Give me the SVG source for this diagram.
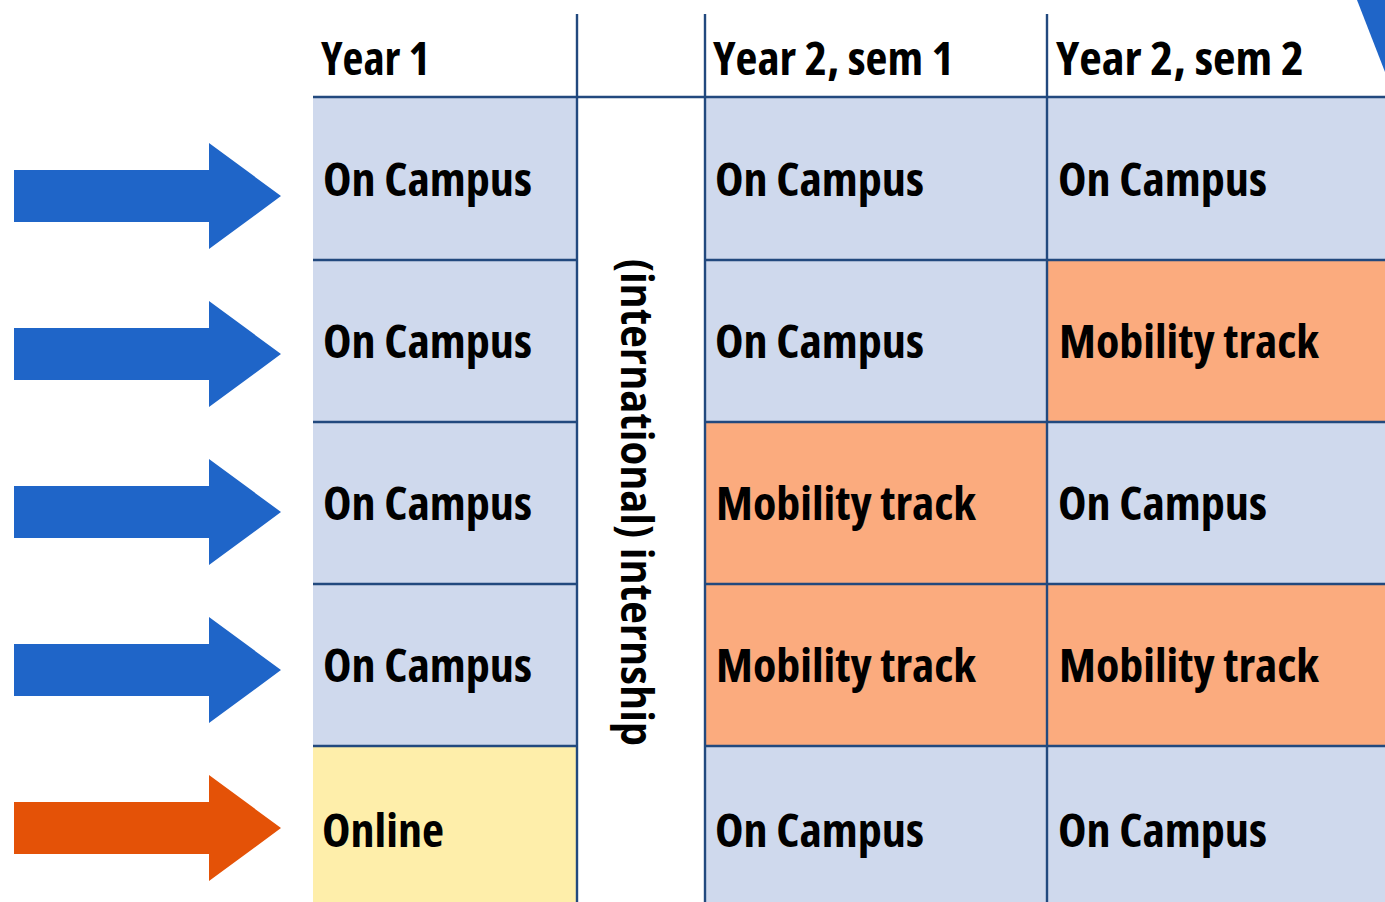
<svg xmlns="http://www.w3.org/2000/svg" width="1385" height="902" viewBox="0 0 1385 902">
<defs>
<style>
.t{font-family:"Open Sans","DejaVu Sans Condensed","Liberation Sans",sans-serif;font-weight:680;font-stretch:condensed;font-size:46px;fill:#000}
.v{font-family:"Open Sans","DejaVu Sans","Liberation Sans",sans-serif;font-weight:700;font-size:45px;fill:#000}
.blue{fill:#cfd9ed}
.peach{fill:#fbab7e}
.yel{fill:#feeeaa}
.arrB{fill:#1f65c8}
.arrO{fill:#e45207}
.ln{stroke:#22497e;stroke-width:2.4;fill:none}
</style>
<polygon id="arrow" points="14,-26 209,-26 209,-53 281,0 209,53 209,26 14,26"/>
</defs>
<rect x="0" y="0" width="1385" height="902" fill="#fff"/>
<polygon points="1357,0 1385,0 1385,72" fill="#1f65c8"/>

<g id="arrows">
<g id="arrow1"><use href="#arrow" class="arrB" transform="translate(0,196)"/></g>
<g id="arrow2"><use href="#arrow" class="arrB" transform="translate(0,354)"/></g>
<g id="arrow3"><use href="#arrow" class="arrB" transform="translate(0,512)"/></g>
<g id="arrow4"><use href="#arrow" class="arrB" transform="translate(0,670)"/></g>
<g id="arrow5"><use href="#arrow" class="arrO" transform="translate(0,828)"/></g>
</g>

<g id="headers">
<text class="t" x="321" y="75" textLength="109" lengthAdjust="spacingAndGlyphs">Year 1</text>
<text class="t" x="713" y="75" textLength="241" lengthAdjust="spacingAndGlyphs">Year 2, sem 1</text>
<text class="t" x="1056" y="75" textLength="248" lengthAdjust="spacingAndGlyphs">Year 2, sem 2</text>
</g>

<g id="c1r1"><rect class="blue" x="313" y="97" width="264" height="163"/><text class="t" x="323" y="196" textLength="209" lengthAdjust="spacingAndGlyphs">On Campus</text></g>
<g id="c1r2"><rect class="blue" x="313" y="260" width="264" height="162"/><text class="t" x="323" y="358" textLength="209" lengthAdjust="spacingAndGlyphs">On Campus</text></g>
<g id="c1r3"><rect class="blue" x="313" y="422" width="264" height="162"/><text class="t" x="323" y="520" textLength="209" lengthAdjust="spacingAndGlyphs">On Campus</text></g>
<g id="c1r4"><rect class="blue" x="313" y="584" width="264" height="162"/><text class="t" x="323" y="682" textLength="209" lengthAdjust="spacingAndGlyphs">On Campus</text></g>
<g id="c1r5"><rect class="yel" x="313" y="746" width="264" height="156"/><text class="t" x="322" y="847" textLength="122" lengthAdjust="spacingAndGlyphs">Online</text></g>

<g id="internship"><text class="v" transform="translate(621,259) rotate(90)" x="0" y="0" textLength="487" lengthAdjust="spacingAndGlyphs">(international) internship</text></g>

<g id="c3r1"><rect class="blue" x="705" y="97" width="342" height="163"/><text class="t" x="715" y="196" textLength="209" lengthAdjust="spacingAndGlyphs">On Campus</text></g>
<g id="c3r2"><rect class="blue" x="705" y="260" width="342" height="162"/><text class="t" x="715" y="358" textLength="209" lengthAdjust="spacingAndGlyphs">On Campus</text></g>
<g id="c3r3"><rect class="peach" x="705" y="422" width="342" height="162"/><text class="t" x="716" y="520" textLength="260" lengthAdjust="spacingAndGlyphs">Mobility track</text></g>
<g id="c3r4"><rect class="peach" x="705" y="584" width="342" height="162"/><text class="t" x="716" y="682" textLength="260" lengthAdjust="spacingAndGlyphs">Mobility track</text></g>
<g id="c3r5"><rect class="blue" x="705" y="746" width="342" height="156"/><text class="t" x="715" y="847" textLength="209" lengthAdjust="spacingAndGlyphs">On Campus</text></g>

<g id="c4r1"><rect class="blue" x="1047" y="97" width="338" height="163"/><text class="t" x="1058" y="196" textLength="209" lengthAdjust="spacingAndGlyphs">On Campus</text></g>
<g id="c4r2"><rect class="peach" x="1047" y="260" width="338" height="162"/><text class="t" x="1059" y="358" textLength="260" lengthAdjust="spacingAndGlyphs">Mobility track</text></g>
<g id="c4r3"><rect class="blue" x="1047" y="422" width="338" height="162"/><text class="t" x="1058" y="520" textLength="209" lengthAdjust="spacingAndGlyphs">On Campus</text></g>
<g id="c4r4"><rect class="peach" x="1047" y="584" width="338" height="162"/><text class="t" x="1059" y="682" textLength="260" lengthAdjust="spacingAndGlyphs">Mobility track</text></g>
<g id="c4r5"><rect class="blue" x="1047" y="746" width="338" height="156"/><text class="t" x="1058" y="847" textLength="209" lengthAdjust="spacingAndGlyphs">On Campus</text></g>

<g id="connectors">
<line class="ln" x1="313" y1="97" x2="1385" y2="97"/>
<line class="ln" x1="313" y1="260" x2="577" y2="260"/>
<line class="ln" x1="313" y1="422" x2="577" y2="422"/>
<line class="ln" x1="313" y1="584" x2="577" y2="584"/>
<line class="ln" x1="313" y1="746" x2="577" y2="746"/>
<line class="ln" x1="705" y1="260" x2="1385" y2="260"/>
<line class="ln" x1="705" y1="422" x2="1385" y2="422"/>
<line class="ln" x1="705" y1="584" x2="1385" y2="584"/>
<line class="ln" x1="705" y1="746" x2="1385" y2="746"/>
<line class="ln" x1="577" y1="14" x2="577" y2="902"/>
<line class="ln" x1="705" y1="14" x2="705" y2="902"/>
<line class="ln" x1="1047" y1="14" x2="1047" y2="902"/>
</g>
</svg>
